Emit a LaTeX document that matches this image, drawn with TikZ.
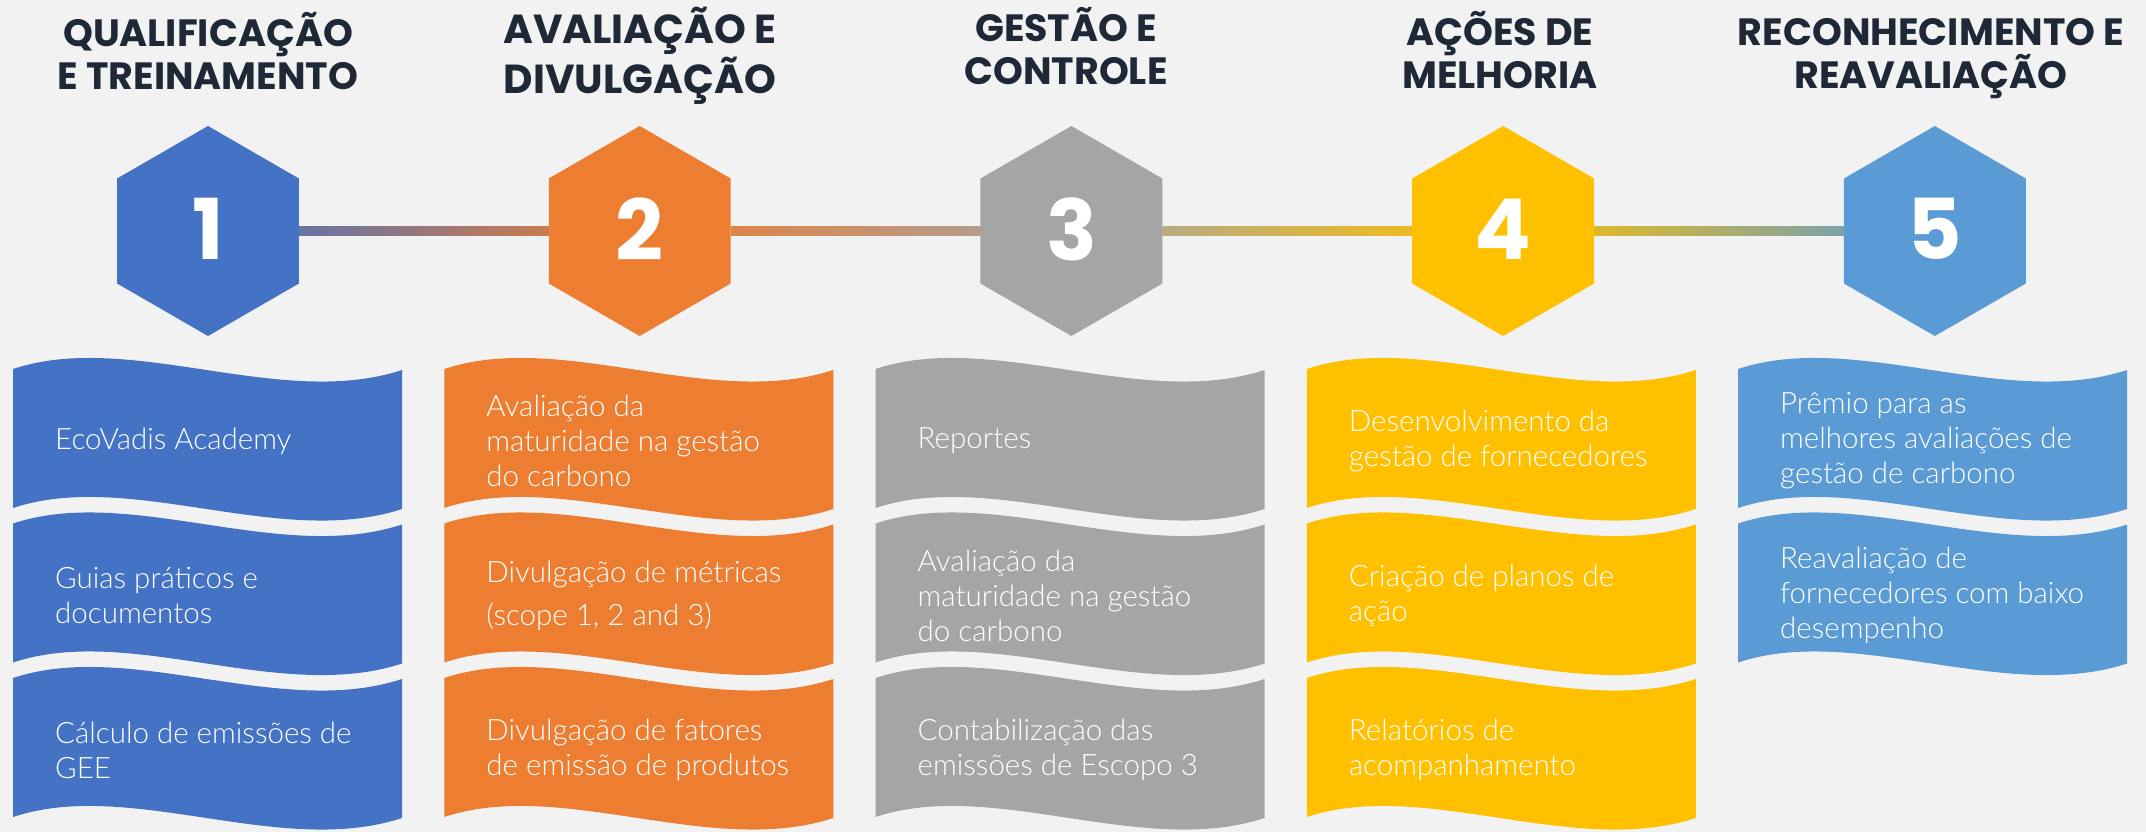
\documentclass[tikz,border=0pt]{standalone}
\usepackage{fontspec}
\usepackage{tikz}
\usetikzlibrary{shapes.geometric,positioning}
\newfontfamily\headfont{Poppins}
\newfontfamily\bodyfont{Lato}[UprightFont=* Light]
\definecolor{bgcol}{HTML}{F2F2F2}
\definecolor{headcol}{HTML}{1E2836}
\definecolor{c1}{HTML}{4472C4}
\definecolor{c2}{HTML}{ED7D31}
\definecolor{c3}{HTML}{A5A5A5}
\definecolor{c4}{HTML}{FFC000}
\definecolor{c5}{HTML}{5B9BD5}

\begin{document}
\begin{tikzpicture}[x=1pt,y=-1pt,node distance=249.4pt,align=center,
		hexa/.style={regular polygon,regular polygon sides=6,shape border rotate=30,minimum size=210pt,inner sep=0pt,text=white,font=\headfont\bfseries\fontsize{84}{84}\selectfont},
		heading/.style={anchor=base,inner sep=0pt,text=headcol,font=\headfont\bfseries\fontsize{38}{43}\selectfont},
		itemtext/.style={anchor=west,align=left,inner sep=0pt,text=white,font=\bodyfont\fontsize{29.5}{35}\selectfont}]
			\useasboundingbox (0,0) rectangle (2146,832);
			\fill[bgcol] (0,0) rectangle (2146,832);
			\node[hexa,fill=c1] (s_1) at (208,231) {\raisebox{3.5pt}{1}};
			\node[hexa,fill=c2] [right=of s_1] (s_2) {\raisebox{3.5pt}{2}};
			\node[hexa,fill=c3] [right=of s_2] (s_3) {\raisebox{3.5pt}{3}};
			\node[hexa,fill=c4] [right=of s_3] (s_4) {\raisebox{3.5pt}{4}};
			\node[hexa,fill=c5] [right=of s_4] (s_5) {\raisebox{3.5pt}{5}};
			\foreach \a/\b in {1/2,2/3,3/4,4/5}
				\shade[left color=c\a!79!c\b,right color=c\a!21!c\b] ([yshift=4.5pt]s_\a.east) rectangle ([yshift=-4.5pt]s_\b.west);
			% the base of a two-line heading is its last line
			\node[heading] (t_1) at (208,89.3) {QUALIFICAÇÃO\\E TREINAMENTO};
			\node[heading,font=\headfont\bfseries\fontsize{40.5}{50}\selectfont] (t_2) at (640,93.3) {AVALIAÇÃO E\\DIVULGAÇÃO};
			\node[heading] (t_3) at (1066,85) {GESTÃO E\\CONTROLE};
			\node[heading] (t_4) at (1500,89) {AÇÕES DE\\MELHORIA};
			\node[heading] (t_5) at (1931,89) {RECONHECIMENTO E\\REAVALIAÇÃO};
			\foreach \c/\r/\txt in {1/0/{EcoVadis Academy},1/1/{Guias práticos e\\documentos},1/2/{Cálculo de emissões de\\GEE},
					2/0/{Avaliação da\\maturidade na gestão\\do carbono},2/1/{Divulgação de métricas\\[8pt](scope 1, 2 and 3)},2/2/{Divulgação de fatores\\de emissão de produtos},
					3/0/{Reportes},3/1/{Avaliação da\\maturidade na gestão\\do carbono},3/2/{Contabilização das\\emissões de Escopo 3},
					4/0/{Desenvolvimento da\\gestão de fornecedores},4/1/{Criação de planos de\\ação},4/2/{Relatórios de\\acompanhamento},
					5/0/{Prêmio para as\\melhores avaliações de\\gestão de carbono},5/1/{Reavaliação de\\fornecedores com baixo\\desempenho}} {
				\begin{scope}[shift={({13+431.25*(\c-1)},{369+154.5*\r})}]
					\fill[c\c] (0,0) .. controls (117,-39) and (267,41) .. (389,1) -- (389,140) .. controls (267,180) and (117,100) .. (0,139) -- cycle;
					\node[itemtext] (b_\c_\r) at (42,72) {\txt};
				\end{scope}
			}
		\end{tikzpicture}
\end{document}
